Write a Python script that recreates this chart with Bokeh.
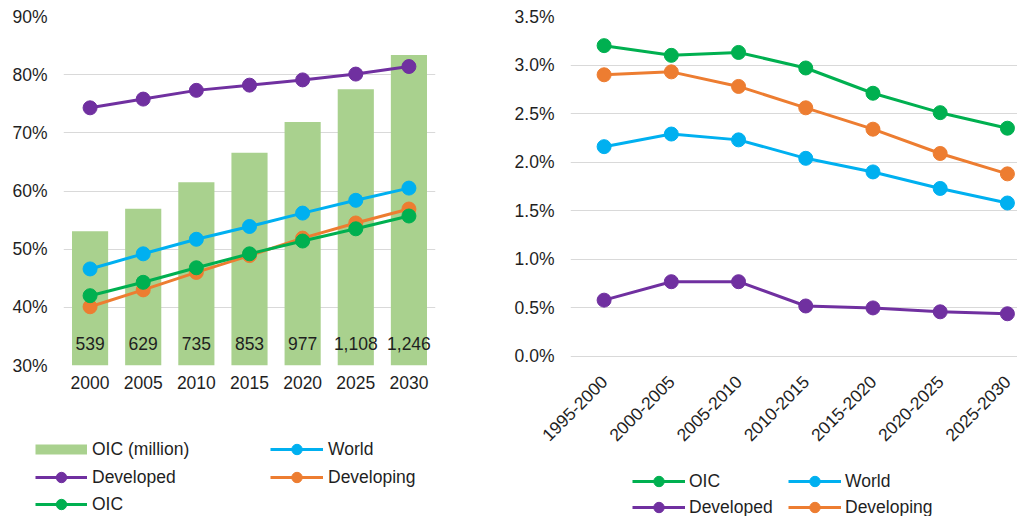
import math
from bokeh.plotting import figure
from bokeh.models import (Range1d, FactorRange, Legend, LegendItem, PrintfTickFormatter,
                          SingleIntervalTicker, FixedTicker, ColumnDataSource)
from bokeh.layouts import row, column
from bokeh.core.properties import value
from bokeh.embed import file_html
from bokeh.resources import INLINE

# ---------------- data ----------------
years = ["2000", "2005", "2010", "2015", "2020", "2025", "2030"]
oic_pop_million = [539, 629, 735, 853, 977, 1108, 1246]
developed_urban = [74.3, 75.8, 77.3, 78.2, 79.1, 80.1, 81.4]
world_urban = [46.6, 49.2, 51.7, 53.9, 56.2, 58.4, 60.5]
developing_urban = [40.1, 43.0, 46.0, 48.9, 51.9, 54.5, 56.9]
oic_urban = [42.0, 44.3, 46.8, 49.2, 51.4, 53.5, 55.7]

periods = ["1995-2000", "2000-2005", "2005-2010", "2010-2015", "2015-2020", "2020-2025", "2025-2030"]
oic_growth = [3.20, 3.10, 3.13, 2.97, 2.71, 2.51, 2.35]
world_growth = [2.16, 2.29, 2.23, 2.04, 1.90, 1.73, 1.58]
developed_growth = [0.58, 0.77, 0.77, 0.52, 0.50, 0.46, 0.44]
developing_growth = [2.90, 2.93, 2.78, 2.56, 2.34, 2.09, 1.88]

# ---------------- style ----------------
FONT = "Liberation Sans"
FS = "17.5px"
TXT = "#1f1f1f"
GRID = "#d9d9d9"
C_DEV = "#7030A0"
C_WORLD = "#00B0F0"
C_DEVING = "#ED7D31"
C_OIC = "#00B050"
C_BAR = "#A9D18E"

TOTAL_H = 516
FRAME_BOTTOM = 365
TOP_H_L = 432
TOP_H_R = 452
NAN = float("nan")


def style(p):
    p.outline_line_color = None
    p.xgrid.grid_line_color = None
    p.ygrid.grid_line_color = GRID
    p.ygrid.grid_line_width = 1
    for ax in (p.xaxis, p.yaxis):
        ax.axis_line_color = None
        ax.major_tick_line_color = None
        ax.minor_tick_line_color = None
        ax.major_tick_out = 0
        ax.major_tick_in = 0
        ax.minor_tick_out = 0
        ax.minor_tick_in = 0
        ax.major_label_text_font = FONT
        ax.major_label_text_font_size = FS
        ax.major_label_text_color = TXT
    p.yaxis.major_label_standoff = 16
    p.background_fill_color = "white"
    p.border_fill_color = "white"


def legend_fig(width, height):
    f = figure(width=width, height=height, x_range=Range1d(0, 1), y_range=Range1d(0, 1),
               x_axis_type=None, y_axis_type=None, output_backend="svg", toolbar_location=None,
               min_border=0, min_border_left=0, min_border_right=0, min_border_top=0,
               min_border_bottom=0)
    f.outline_line_color = None
    f.grid.visible = False
    f.background_fill_color = "white"
    f.border_fill_color = "white"
    return f


def add_legend(f, label, renderers, x, center_from_top, gw, gh, standoff):
    y = f.height - center_from_top - gh / 2
    leg = Legend(items=[LegendItem(label=label, renderers=renderers)], location=(x, y),
                 glyph_width=gw, glyph_height=gh, label_standoff=standoff,
                 padding=0, margin=0, spacing=0,
                 border_line_color=None, background_fill_alpha=0,
                 label_text_font=FONT, label_text_font_size=FS, label_text_color=TXT,
                 label_height=gh)
    f.add_layout(leg)


def series_proxy(f, col):
    # legend-only proxies (NaN point: nothing drawn in the strip itself)
    l = f.line(x=[NAN], y=[NAN], line_width=3, color=col)
    s = f.scatter(x=[NAN], y=[NAN], size=14, color=col)
    return [l, s]


# ---------------- left chart ----------------
p1 = figure(width=510, height=TOP_H_L, x_range=FactorRange(*years, range_padding=0),
            y_range=Range1d(30, 90), output_backend="svg", toolbar_location=None,
            min_border_left=63, min_border_right=75, min_border_top=16,
            min_border_bottom=TOP_H_L - FRAME_BOTTOM)
p1.extra_y_ranges = {"pop": Range1d(0, 1400)}
style(p1)
p1.yaxis.ticker = SingleIntervalTicker(interval=10)
p1.yaxis.formatter = PrintfTickFormatter(format="%d%%")
p1.xaxis.major_label_standoff = 10

bar_src = ColumnDataSource(dict(x=years, top=oic_pop_million,
                                base=[0] * len(years),
                                lab=[f"{v:,}" for v in oic_pop_million]))
p1.vbar(x="x", top="top", width=0.68, source=bar_src, y_range_name="pop",
        fill_color=C_BAR, line_color=None)
p1.text(x="x", y="base", text="lab", source=bar_src, y_range_name="pop",
        text_align="center", text_baseline="middle", y_offset=-22,
        text_font=value(FONT), text_font_size=FS, text_color=TXT)

for vals, col in [(developed_urban, C_DEV), (world_urban, C_WORLD),
                  (developing_urban, C_DEVING), (oic_urban, C_OIC)]:
    p1.line(years, vals, line_width=3, color=col)
    p1.scatter(years, vals, size=14, color=col)

# left legend strip (row centres at picture y 449 / 477 / 504)
lg1 = legend_fig(510, TOTAL_H - TOP_H_L)
bar_proxy = lg1.line(x=[NAN], y=[NAN], line_width=10, color=C_BAR, line_cap="butt")
add_legend(lg1, "OIC (million)", [bar_proxy], 35, 449 - TOP_H_L, 52, 26, 5)
add_legend(lg1, "World", series_proxy(lg1, C_WORLD), 270, 449 - TOP_H_L, 53, 26, 5)
add_legend(lg1, "Developed", series_proxy(lg1, C_DEV), 35, 477 - TOP_H_L, 52, 26, 5)
add_legend(lg1, "Developing", series_proxy(lg1, C_DEVING), 270, 477 - TOP_H_L, 53, 26, 5)
add_legend(lg1, "OIC", series_proxy(lg1, C_OIC), 35, 504 - TOP_H_L, 52, 26, 5)

# ---------------- right chart ----------------
idx = list(range(len(periods)))
p2 = figure(width=507, height=TOP_H_R, x_range=Range1d(-0.5, 6.15), y_range=Range1d(-0.0927, 3.5),
            output_backend="svg", toolbar_location=None,
            min_border_left=60, min_border_right=0, min_border_top=16,
            min_border_bottom=TOP_H_R - FRAME_BOTTOM)
style(p2)
p2.yaxis.ticker = SingleIntervalTicker(interval=0.5)
p2.yaxis.formatter = PrintfTickFormatter(format="%.1f%%")
p2.xaxis.ticker = FixedTicker(ticks=idx)
p2.xaxis.major_label_overrides = {i: periods[i] for i in idx}
p2.xaxis.major_label_orientation = math.pi / 4
p2.xaxis.major_label_standoff = 13

for vals, col in [(developed_growth, C_DEV), (world_growth, C_WORLD),
                  (developing_growth, C_DEVING), (oic_growth, C_OIC)]:
    p2.line(idx, vals, line_width=3, color=col)
    p2.scatter(idx, vals, size=14, color=col)

# right legend strip (row centres at picture y 481 / 507)
lg2 = legend_fig(507, TOTAL_H - TOP_H_R)
add_legend(lg2, "OIC", series_proxy(lg2, C_OIC), 122, 481 - TOP_H_R, 53, 26, 4)
add_legend(lg2, "World", series_proxy(lg2, C_WORLD), 278, 481 - TOP_H_R, 53, 26, 4)
add_legend(lg2, "Developed", series_proxy(lg2, C_DEV), 122, 507 - TOP_H_R, 53, 26, 4)
add_legend(lg2, "Developing", series_proxy(lg2, C_DEVING), 278, 507 - TOP_H_R, 53, 26, 4)

left = column(row(p1, spacing=0), row(lg1, spacing=0), spacing=0)
right = column(row(p2, spacing=0), row(lg2, spacing=0), spacing=0)
layout = row(left, right, spacing=0)
open("out.html", "w").write(file_html(layout, INLINE))
